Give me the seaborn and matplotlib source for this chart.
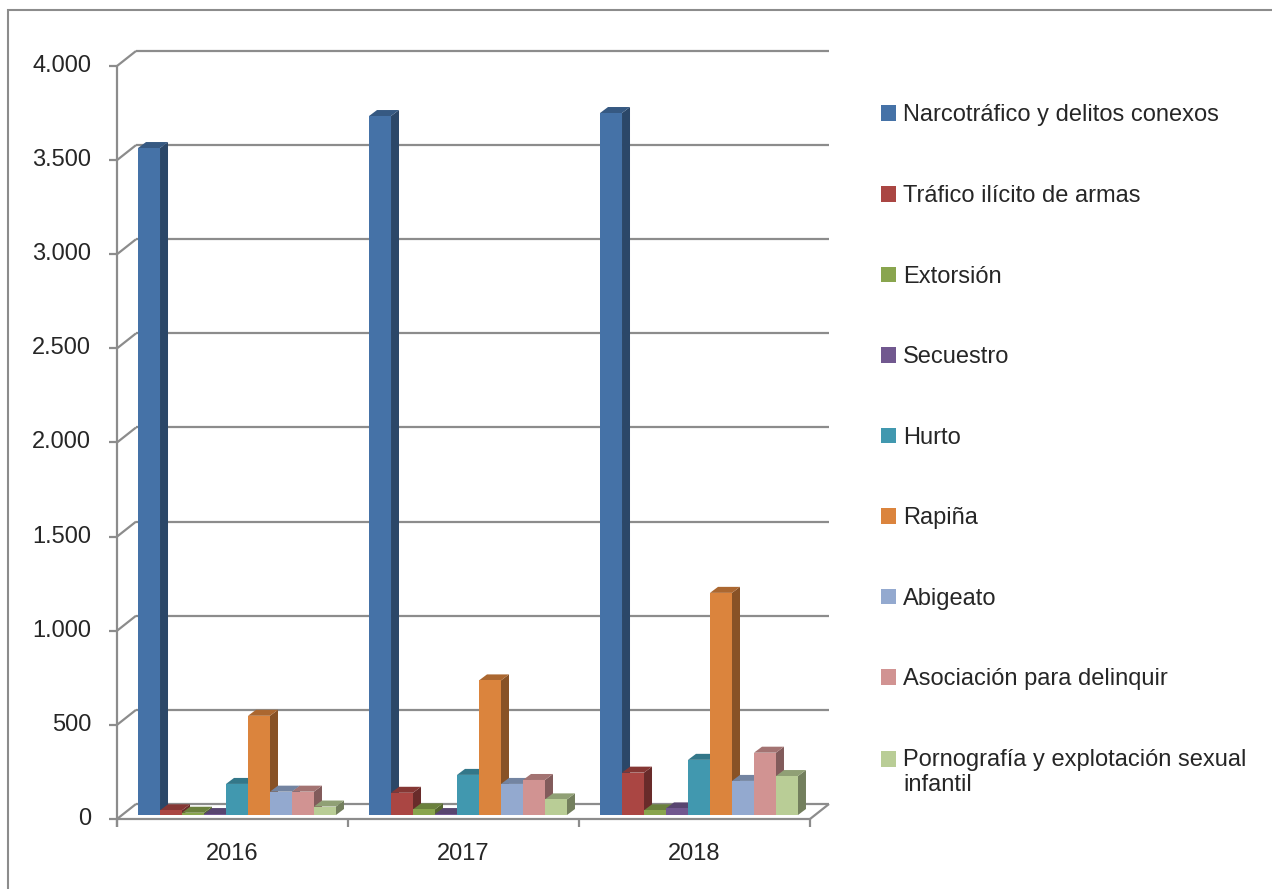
import textwrap
import numpy as np
import pandas as pd
import matplotlib
matplotlib.use("Agg")
import matplotlib.pyplot as plt
import seaborn as sns
from matplotlib.lines import Line2D
from matplotlib.patches import Polygon, Rectangle
from matplotlib.transforms import IdentityTransform
from matplotlib.colors import to_rgb

# --- data ---
years = ["2016", "2017", "2018"]
delitos = [
    "Narcotráfico y delitos conexos",
    "Tráfico ilícito de armas",
    "Extorsión",
    "Secuestro",
    "Hurto",
    "Rapiña",
    "Abigeato",
    "Asociación para delinquir",
    "Pornografía y explotación sexual infantil",
]
narcotrafico = [3543, 3713, 3729]
armas = [25, 118, 225]
extorsion = [12, 30, 25]
secuestro = [5, 5, 35]
hurto = [165, 213, 293]
rapina = [527, 715, 1180]
abigeato = [124, 165, 181]
asociacion = [124, 186, 331]
pornografia = [45, 83, 207]
colors = ["#4572A7", "#AA4643", "#89A54E", "#71588F", "#4198AF",
          "#DB843D", "#93A9CF", "#D19392", "#B9CD96"]
yticks = list(range(0, 4001, 500))

series = [narcotrafico, armas, extorsion, secuestro, hurto, rapina,
          abigeato, asociacion, pornografia]
df = pd.DataFrame(
    [(y, d, vals[i]) for d, vals in zip(delitos, series) for i, y in enumerate(years)],
    columns=["anio", "delito", "valor"],
)

W, H = 1272, 889
GRID = "#8c8c8c"
sns.set_style("white")
plt.rcParams["font.family"] = ["Liberation Sans", "DejaVu Sans"]
FS = 17

fig = plt.figure(figsize=(W / 100, H / 100), dpi=100)
# axes = plane where the bar fronts sit
ax = fig.add_axes([121.5 / W, (H - 815) / H, 693 / W, 753 / H])
sns.barplot(data=df, x="anio", y="valor", hue="delito", hue_order=delitos,
            palette=colors, width=0.857, gap=0, saturation=1, linewidth=0,
            errorbar=None, ax=ax)
ax.set_xlim(-0.5, 2.5)
ax.set_ylim(0, 4000)
leg = ax.get_legend()
handles = leg.legend_handles
labels = [t.get_text() for t in leg.get_texts()]
leg.remove()
ax.axis("off")

FRONT = (-4.5, -4)   # display offset of front plane
BACK = (14.5, 11)    # display offset of back wall
ID = IdentityTransform()


def px(xa, v, off):
    x = ax.transAxes.transform((xa, 0))[0]
    y = ax.transData.transform((0, v))[1]
    return x + off[0], y + off[1]


def seg(p, q, z=-1):
    fig.add_artist(Line2D([p[0], q[0]], [p[1], q[1]], transform=ID, color=GRID,
                          lw=1.6, zorder=z, solid_capstyle="butt"))


# walls, gridlines, y axis
for v in yticks:
    f = px(0, v, FRONT)
    b = px(0, v, BACK)
    e = px(1, v, BACK)
    seg(f, b)
    seg(b, e)
    seg((f[0] - 8, f[1]), f)
    fig.text(f[0] - 26, f[1], f"{v:,}".replace(",", "."), transform=ID,
             ha="right", va="center", fontsize=FS)

f0 = px(0, 0, FRONT)
seg((f0[0], f0[1] - 8), px(0, 4000, FRONT))
f1 = px(1, 0, FRONT)
seg(f0, f1)
seg(f1, px(1, 0, BACK))
for i in range(len(years) + 1):
    p = px(i / len(years), 0, FRONT)
    seg(p, (p[0], p[1] - 8))
for i, y in enumerate(years):
    p = px((i + 0.5) / len(years), 0, FRONT)
    fig.text(p[0], p[1] - 35, y, transform=ID, ha="center", va="center", fontsize=FS)

# fake 3D depth for every bar
DX, DY = 8, 6
bars = sorted([b for c in ax.containers for b in c], key=lambda b: b.get_x())
for k, bar in enumerate(bars):
    x0, w, h = bar.get_x(), bar.get_width(), bar.get_height()
    X0, Y0 = ax.transData.transform((x0, 0))
    X1, Y1 = ax.transData.transform((x0 + w, h))
    c = np.array(to_rgb(bar.get_facecolor()))
    side = Polygon([(X1, Y0), (X1, Y1), (X1 + DX, Y1 + DY), (X1 + DX, Y0 + DY)],
                   transform=ID, fc=c * 0.62, ec="none", zorder=0.5 + k * 1e-3, clip_on=False)
    top = Polygon([(X0, Y1), (X1, Y1), (X1 + DX, Y1 + DY), (X0 + DX, Y1 + DY)],
                  transform=ID, fc=c * 0.78, ec="none", zorder=0.5 + k * 1e-3, clip_on=False)
    ax.add_patch(side)
    ax.add_patch(top)
    bar.set_zorder(2)

# legend
fs_px = FS * 100 / 72
wrapped = [textwrap.fill(l, 32) for l in labels]
lg = fig.legend(handles, wrapped, loc="upper left", bbox_to_anchor=(881 / W, (H - 104.5) / H),
                frameon=False, borderpad=0, borderaxespad=0, fontsize=FS,
                handlelength=15 / fs_px, handleheight=15 / fs_px,
                handletextpad=7 / fs_px, labelspacing=2.48)
# square of the wrapped entry sits on its first line
last = lg.get_patches()[-1]
last.set_y(last.get_y() + 10)

# chart border (cropped at right/bottom)
fig.add_artist(Rectangle((8, -50), 1400, H - 10 + 50, transform=ID, fill=False,
                         ec=GRID, lw=1.5, zorder=-2))

fig.savefig("out.png", dpi=100)
